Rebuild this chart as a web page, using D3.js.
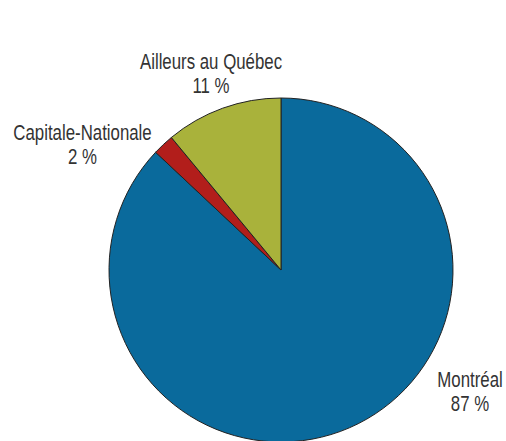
<!DOCTYPE html>
<html lang="fr">
<head>
<meta charset="UTF-8">
<script src="https://d3js.org/d3.v7.min.js"></script>
<style>
  body { margin: 0; padding: 0; background: #fff; }
  svg text {
    font-family: "Liberation Sans", Arial, sans-serif;
    fill: #333;
    font-size: 22px;
  }
</style>
</head>
<body>
<svg id="chart"></svg>
<script>
  const regions = ["Montréal", "Capitale-Nationale", "Ailleurs au Québec"];
  const shares = [87, 2, 11];
  const colors = ["#0a6a9c", "#b21e1b", "#a9b23b"];

  const width = 506, height = 441;
  const cx = 281, cy = 270, radius = 172;
  const squeeze = 0.765; // condensed look

  // label anchor: centre x, first baseline
  const labelAt = [[470, 387], [82.5, 140], [211, 69]];

  const svg = d3.select("#chart")
    .attr("width", width)
    .attr("height", height);

  const data = regions.map((r, i) => ({ name: r, value: shares[i], col: colors[i] }));

  const pie = d3.pie().value(d => d.value).sort(null);
  const arc = d3.arc().innerRadius(0).outerRadius(radius);

  const g = svg.append("g").attr("transform", `translate(${cx},${cy})`);

  g.selectAll("path")
    .data(pie(data))
    .enter().append("path")
    .attr("d", arc)
    .style("fill", d => d.data.col)
    .style("stroke", "#222")
    .style("stroke-width", 1);

  data.forEach((d, i) => {
    const t = svg.append("text")
      .attr("text-anchor", "middle")
      .attr("transform", `translate(${labelAt[i][0]},${labelAt[i][1]}) scale(${squeeze},1)`);
    t.append("tspan").attr("x", 0).attr("y", 0).text(d.name);
    t.append("tspan").attr("x", 0).attr("y", 24).text(d.value + " %");
  });
</script>
</body>
</html>
